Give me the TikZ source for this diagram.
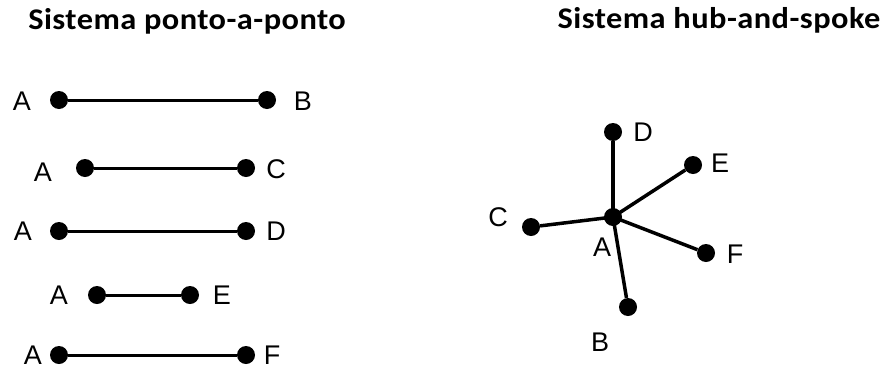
\documentclass[tikz,border=0pt]{standalone}
\usepackage{fontspec}
\setmainfont{Liberation Sans}
\newfontfamily\titlefont[FakeStretch=1.08,LetterSpace=1.5]{Carlito}
\usetikzlibrary{positioning}

\begin{document}
\begin{tikzpicture}[x=1pt,y=-1pt,
  dot/.style={circle,fill=black,inner sep=0pt,minimum size=18pt},
  lbl/.style={font=\fontsize{27}{27}\selectfont,inner sep=0pt},
  ttl/.style={font=\titlefont\bfseries\fontsize{30}{30}\selectfont,inner sep=0pt,anchor=base},
  link/.style={line width=3pt},
  spoke/.style={line width=3.5pt}]
\useasboundingbox (0,0) rectangle (883,370);

\node[ttl] (tp2p) at (187,29) {Sistema ponto-a-ponto};
\node[ttl] (thub) at (719,28) {Sistema hub-and-spoke};

% ponto-a-ponto: one line per pair
\node[dot] (p1a) at (59,100) {};  \node[dot] (p1b) at (267,100) {};
\node[dot] (p2a) at (85,168) {};  \node[dot] (p2b) at (246,168) {};
\node[dot] (p3a) at (59,231) {};  \node[dot] (p3b) at (246,231) {};
\node[dot] (p4a) at (97,295) {};  \node[dot] (p4b) at (190,295) {};
\node[dot] (p5a) at (59,355) {};  \node[dot] (p5b) at (246,355) {};
\draw[link] (p1a) -- (p1b);
\draw[link] (p2a) -- (p2b);
\draw[link] (p3a) -- (p3b);
\draw[link] (p4a) -- (p4b);
\draw[link] (p5a) -- (p5b);

\node[lbl] (l1a) at (22,101) {A};  \node[lbl] (l1b) at (303,101) {B};
\node[lbl] (l2a) at (43,172) {A};  \node[lbl] (l2b) at (276,169) {C};
\node[lbl] (l3a) at (23,231) {A};  \node[lbl] (l3b) at (276,231) {D};
\node[lbl] (l4a) at (59,295) {A};  \node[lbl] (l4b) at (222,295) {E};
\node[lbl] (l5a) at (33,355) {A};  \node[lbl] (l5b) at (272,355) {F};

% hub-and-spoke: everything goes through A
\node[dot] (hub) at (613,217) {};
\node[dot] (hD) at (613,132) {};
\node[dot] (hE) at (693,165) {};
\node[dot] (hC) at (531,227) {};
\node[dot] (hF) at (706,253) {};
\node[dot] (hB) at (628,307) {};
\foreach \s in {hD,hE,hC,hF,hB}
  \draw[spoke] (hub.center) -- (\s);

\node[lbl] (lhA) at (602,247) {A};
\node[lbl] (lhD) at (643,132) {D};
\node[lbl] (lhE) at (720,163) {E};
\node[lbl] (lhC) at (498,217) {C};
\node[lbl] (lhF) at (735,254) {F};
\node[lbl] (lhB) at (600,342) {B};
\end{tikzpicture}
\end{document}
